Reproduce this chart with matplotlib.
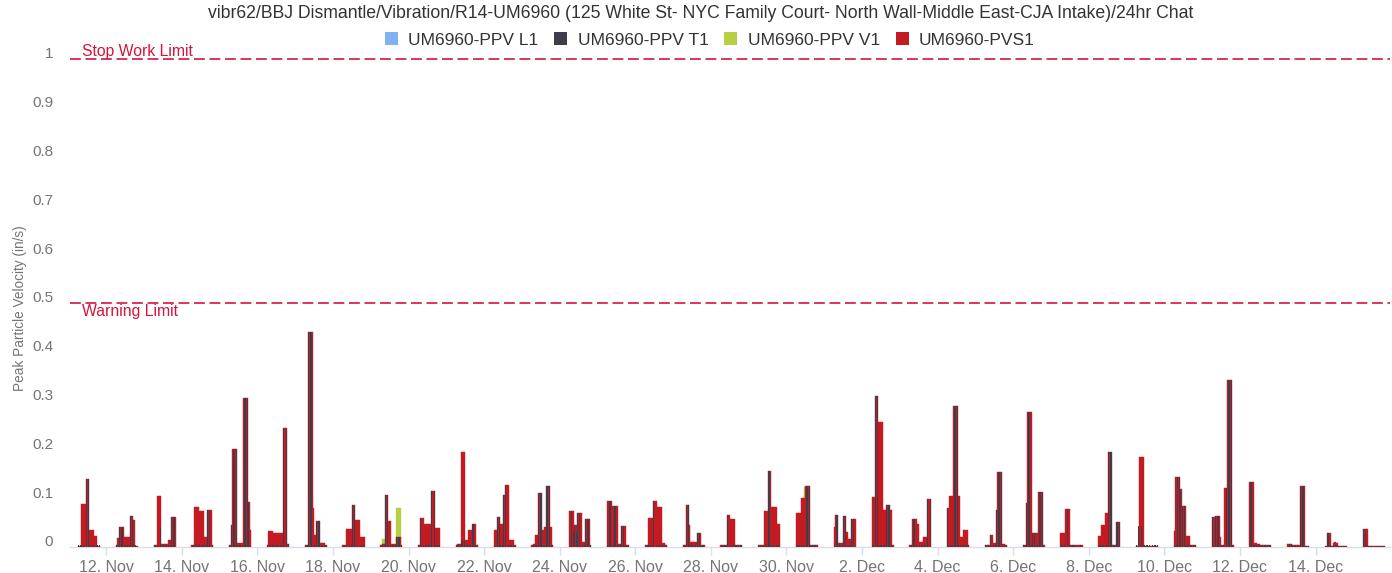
import matplotlib
matplotlib.use("Agg")
import matplotlib.pyplot as plt
from matplotlib.patches import Patch
from matplotlib.transforms import ScaledTranslation
import numpy as np

plt.rcParams['font.family'] = ['Liberation Sans', 'DejaVu Sans']

title = ("vibr62/BBJ Dismantle/Vibration/R14-UM6960 (125 White St- NYC Family Court- "
         "North Wall-Middle East-CJA Intake)/24hr Chat")
series_names = ["UM6960-PPV L1", "UM6960-PPV T1", "UM6960-PPV V1", "UM6960-PVS1"]
series_colors = ["#7fb2ee", "#3d3e4a", "#b7d043", "#c41a22"]
y_label = "Peak Particle Velocity (in/s)"
limit_values = [1.0, 0.5]
limit_names = ["Stop Work Limit", "Warning Limit"]

day_labels = ["11. Nov", "12. Nov", "13. Nov", "14. Nov", "15. Nov", "16. Nov", "17. Nov",
              "18. Nov", "19. Nov", "20. Nov", "21. Nov", "22. Nov", "23. Nov", "24. Nov",
              "25. Nov", "26. Nov", "27. Nov", "28. Nov", "29. Nov", "30. Nov", "1. Dec",
              "2. Dec", "3. Dec", "4. Dec", "5. Dec", "6. Dec", "7. Dec", "8. Dec",
              "9. Dec", "10. Dec", "11. Dec", "12. Dec", "13. Dec", "14. Dec", "15. Dec"]
hours = [6, 7, 8, 9, 10, 11, 12, 13, 14, 15, 16, 17, 18, 19]

# hourly PVS1 (in/s), one row per day, hours 06..19
pvs1 = [
    [0.003, 0.003, 0.088, 0.088, 0.088, 0.139, 0.139, 0.035, 0.035, 0.035, 0.023, 0.023, 0.003, 0.003],
    [0.004, 0.018, 0.040, 0.040, 0.040, 0.021, 0.021, 0.021, 0.021, 0.064, 0.064, 0.055, 0.003, 0.003],
    [0.004, 0.004, 0.105, 0.105, 0.105, 0.007, 0.007, 0.007, 0.007, 0.014, 0.014, 0.061, 0.061, 0.061],
    [0.004, 0.004, 0.081, 0.081, 0.081, 0.074, 0.074, 0.074, 0.020, 0.020, 0.076, 0.076, 0.076, 0.004],
    [0.004, 0.045, 0.200, 0.200, 0.200, 0.009, 0.009, 0.009, 0.009, 0.305, 0.305, 0.305, 0.093, 0.035],
    [0.004, 0.033, 0.033, 0.033, 0.029, 0.029, 0.029, 0.029, 0.029, 0.029, 0.243, 0.243, 0.243, 0.006],
    [0.004, 0.004, 0.441, 0.441, 0.441, 0.079, 0.025, 0.054, 0.054, 0.054, 0.009, 0.009, 0.009, 0.004],
    [0.004, 0.004, 0.036, 0.036, 0.036, 0.036, 0.086, 0.086, 0.055, 0.055, 0.055, 0.021, 0.021, 0.021],
    [0.004, 0.006, 0.006, 0.107, 0.107, 0.054, 0.054, 0.006, 0.006, 0.006, 0.021, 0.021, 0.021, 0.004],
    [0.004, 0.060, 0.060, 0.060, 0.048, 0.048, 0.048, 0.048, 0.115, 0.115, 0.115, 0.038, 0.038, 0.038],
    [0.004, 0.006, 0.006, 0.195, 0.195, 0.195, 0.014, 0.014, 0.035, 0.035, 0.048, 0.048, 0.048, 0.004],
    [0.035, 0.035, 0.062, 0.062, 0.048, 0.048, 0.107, 0.128, 0.128, 0.128, 0.014, 0.014, 0.014, 0.004],
    [0.004, 0.006, 0.025, 0.025, 0.110, 0.110, 0.110, 0.035, 0.042, 0.125, 0.125, 0.125, 0.042, 0.004],
    [0.074, 0.074, 0.074, 0.045, 0.045, 0.070, 0.070, 0.070, 0.011, 0.011, 0.057, 0.057, 0.057, 0.004],
    [0.095, 0.095, 0.095, 0.083, 0.083, 0.083, 0.083, 0.006, 0.006, 0.043, 0.043, 0.043, 0.004, 0.004],
    [0.004, 0.004, 0.059, 0.059, 0.059, 0.094, 0.094, 0.094, 0.081, 0.081, 0.081, 0.008, 0.008, 0.004],
    [0.004, 0.004, 0.087, 0.087, 0.045, 0.011, 0.011, 0.011, 0.011, 0.028, 0.028, 0.028, 0.004, 0.004],
    [0.004, 0.004, 0.004, 0.004, 0.066, 0.066, 0.057, 0.057, 0.057, 0.004, 0.004, 0.004, 0.004, 0.004],
    [0.004, 0.004, 0.004, 0.004, 0.074, 0.074, 0.156, 0.156, 0.081, 0.081, 0.081, 0.081, 0.047, 0.047],
    [0.069, 0.069, 0.069, 0.100, 0.100, 0.100, 0.126, 0.126, 0.126, 0.004, 0.004, 0.004, 0.004, 0.004],
    [0.042, 0.066, 0.066, 0.008, 0.008, 0.008, 0.064, 0.064, 0.030, 0.016, 0.016, 0.057, 0.057, 0.057],
    [0.103, 0.103, 0.309, 0.309, 0.257, 0.257, 0.257, 0.076, 0.076, 0.087, 0.087, 0.087, 0.076, 0.004],
    [0.004, 0.004, 0.057, 0.057, 0.057, 0.047, 0.011, 0.011, 0.011, 0.021, 0.021, 0.098, 0.098, 0.098],
    [0.079, 0.105, 0.105, 0.105, 0.289, 0.289, 0.289, 0.105, 0.021, 0.021, 0.035, 0.035, 0.035, 0.004],
    [0.004, 0.004, 0.004, 0.025, 0.025, 0.008, 0.008, 0.076, 0.154, 0.154, 0.154, 0.006, 0.006, 0.004],
    [0.004, 0.004, 0.091, 0.277, 0.277, 0.277, 0.028, 0.028, 0.028, 0.028, 0.113, 0.113, 0.113, 0.004],
    [0.028, 0.028, 0.028, 0.077, 0.077, 0.077, 0.004, 0.004, 0.004, 0.004, 0.004, 0.004, 0.004, 0.004],
    [0.023, 0.023, 0.045, 0.045, 0.070, 0.070, 0.195, 0.195, 0.195, 0.004, 0.004, 0.052, 0.052, 0.052],
    [0.003, 0.003, 0.184, 0.184, 0.184, 0.003, 0.003, 0.003, 0.003, 0.003, 0.003, 0.003, 0.003, 0.003],
    [0.033, 0.143, 0.143, 0.143, 0.118, 0.083, 0.083, 0.083, 0.023, 0.023, 0.005, 0.005, 0.005, 0.004],
    [0.061, 0.061, 0.064, 0.064, 0.064, 0.021, 0.004, 0.004, 0.120, 0.120, 0.342, 0.342, 0.342, 0.004],
    [0.134, 0.134, 0.134, 0.008, 0.008, 0.006, 0.006, 0.004, 0.004, 0.004, 0.004, 0.004, 0.004, 0.004],
    [0.006, 0.006, 0.006, 0.004, 0.004, 0.004, 0.004, 0.004, 0.125, 0.125, 0.125, 0.003, 0.003, 0.003],
    [0.003, 0.028, 0.028, 0.028, 0.003, 0.008, 0.010, 0.008, 0.003, 0.003, 0.003, 0.003, 0.003, 0.003],
    [0.037, 0.037, 0.037, 0.003, 0.003, 0.003, 0.003, 0.003, 0.003, 0.003, 0.003, 0.003, 0.003, 0.003],
]

# hourly PPV T1 (in/s)
ppv_t1 = [
    [0.004, 0.004, 0.005, 0.005, 0.005, 0.139, 0.139, 0.005, 0.005, 0.005, 0.005, 0.005, 0.004, 0.004],
    [0.004, 0.005, 0.040, 0.040, 0.040, 0.005, 0.005, 0.005, 0.005, 0.064, 0.064, 0.005, 0.004, 0.004],
    [0.004, 0.004, 0.005, 0.105, 0.040, 0.005, 0.005, 0.005, 0.005, 0.005, 0.005, 0.061, 0.061, 0.061],
    [0.004, 0.004, 0.005, 0.005, 0.005, 0.005, 0.005, 0.005, 0.005, 0.005, 0.076, 0.076, 0.076, 0.004],
    [0.004, 0.045, 0.200, 0.200, 0.200, 0.005, 0.005, 0.005, 0.005, 0.305, 0.305, 0.305, 0.093, 0.005],
    [0.004, 0.005, 0.005, 0.005, 0.005, 0.005, 0.005, 0.005, 0.005, 0.005, 0.243, 0.243, 0.243, 0.006],
    [0.004, 0.004, 0.441, 0.441, 0.441, 0.005, 0.005, 0.054, 0.054, 0.054, 0.005, 0.005, 0.005, 0.004],
    [0.004, 0.004, 0.005, 0.005, 0.005, 0.005, 0.086, 0.086, 0.005, 0.005, 0.005, 0.005, 0.005, 0.005],
    [0.004, 0.005, 0.005, 0.107, 0.107, 0.005, 0.005, 0.005, 0.005, 0.005, 0.021, 0.021, 0.021, 0.004],
    [0.004, 0.060, 0.060, 0.005, 0.005, 0.005, 0.005, 0.005, 0.115, 0.115, 0.115, 0.005, 0.005, 0.005],
    [0.004, 0.005, 0.005, 0.012, 0.012, 0.012, 0.005, 0.005, 0.005, 0.005, 0.048, 0.048, 0.005, 0.004],
    [0.005, 0.005, 0.062, 0.062, 0.005, 0.005, 0.107, 0.128, 0.128, 0.005, 0.005, 0.005, 0.005, 0.004],
    [0.004, 0.005, 0.005, 0.005, 0.110, 0.110, 0.110, 0.005, 0.005, 0.125, 0.125, 0.125, 0.005, 0.004],
    [0.074, 0.074, 0.030, 0.045, 0.030, 0.070, 0.070, 0.030, 0.005, 0.005, 0.057, 0.057, 0.057, 0.004],
    [0.005, 0.095, 0.095, 0.005, 0.083, 0.083, 0.005, 0.005, 0.005, 0.043, 0.043, 0.005, 0.004, 0.004],
    [0.004, 0.004, 0.005, 0.005, 0.005, 0.094, 0.094, 0.005, 0.005, 0.005, 0.005, 0.005, 0.005, 0.004],
    [0.004, 0.004, 0.087, 0.087, 0.005, 0.005, 0.005, 0.005, 0.005, 0.028, 0.028, 0.005, 0.004, 0.004],
    [0.004, 0.004, 0.004, 0.004, 0.066, 0.066, 0.005, 0.005, 0.005, 0.004, 0.004, 0.004, 0.004, 0.004],
    [0.004, 0.004, 0.004, 0.004, 0.005, 0.005, 0.156, 0.156, 0.005, 0.005, 0.005, 0.005, 0.005, 0.005],
    [0.005, 0.005, 0.005, 0.005, 0.005, 0.005, 0.126, 0.126, 0.126, 0.004, 0.004, 0.004, 0.004, 0.004],
    [0.005, 0.066, 0.066, 0.005, 0.005, 0.005, 0.064, 0.064, 0.005, 0.005, 0.005, 0.057, 0.057, 0.057],
    [0.005, 0.005, 0.309, 0.309, 0.005, 0.005, 0.005, 0.005, 0.005, 0.087, 0.087, 0.087, 0.005, 0.004],
    [0.004, 0.004, 0.057, 0.057, 0.005, 0.005, 0.005, 0.005, 0.005, 0.005, 0.005, 0.098, 0.098, 0.098],
    [0.079, 0.005, 0.005, 0.005, 0.289, 0.289, 0.289, 0.005, 0.005, 0.005, 0.005, 0.005, 0.005, 0.004],
    [0.004, 0.004, 0.004, 0.025, 0.025, 0.005, 0.005, 0.076, 0.154, 0.154, 0.154, 0.005, 0.005, 0.004],
    [0.004, 0.004, 0.091, 0.277, 0.277, 0.005, 0.028, 0.028, 0.005, 0.005, 0.113, 0.113, 0.113, 0.004],
    [0.005, 0.005, 0.005, 0.077, 0.077, 0.005, 0.004, 0.004, 0.004, 0.004, 0.004, 0.004, 0.004, 0.004],
    [0.005, 0.005, 0.005, 0.005, 0.005, 0.005, 0.195, 0.195, 0.195, 0.004, 0.004, 0.052, 0.052, 0.052],
    [0.004, 0.043, 0.043, 0.043, 0.005, 0.004, 0.004, 0.004, 0.004, 0.004, 0.004, 0.004, 0.004, 0.004],
    [0.005, 0.005, 0.143, 0.143, 0.118, 0.083, 0.083, 0.005, 0.005, 0.005, 0.005, 0.005, 0.005, 0.004],
    [0.061, 0.061, 0.064, 0.064, 0.064, 0.005, 0.004, 0.004, 0.120, 0.120, 0.342, 0.342, 0.342, 0.004],
    [0.134, 0.134, 0.005, 0.005, 0.005, 0.005, 0.004, 0.004, 0.004, 0.004, 0.004, 0.004, 0.004, 0.004],
    [0.006, 0.006, 0.006, 0.004, 0.004, 0.004, 0.004, 0.004, 0.125, 0.125, 0.125, 0.003, 0.003, 0.003],
    [0.003, 0.028, 0.028, 0.005, 0.003, 0.005, 0.005, 0.005, 0.003, 0.003, 0.003, 0.003, 0.003, 0.003],
    [0.037, 0.037, 0.005, 0.003, 0.003, 0.003, 0.003, 0.003, 0.003, 0.003, 0.003, 0.003, 0.003, 0.003],
]

# PPV V1 only where it shows (day index -> {hour: value})
ppv_v1 = {
    8: {7: 0.016, 8: 0.016, 16: 0.079, 17: 0.079, 18: 0.079},
    16: {10: 0.040},
    19: {11: 0.122},
}
# PPV L1 is hidden behind the other series everywhere in the reference
ppv_l1 = {}

red, dark, green, blue = series_colors[3], series_colors[1], series_colors[2], series_colors[0]

fig = plt.figure(figsize=(13.92, 5.73), dpi=100)
ax = fig.add_axes([70 / 1392, 26 / 573, 1320 / 1392, 502 / 573])

hour_w = 1.0 / 24.0
hrs = np.array(hours, dtype=float)
for d in range(len(day_labels)):
    x = d + hrs / 24.0
    if d in ppv_v1:
        hv = np.array(list(ppv_v1[d].keys()), dtype=float)
        ax.bar(d + hv / 24.0, list(ppv_v1[d].values()), width=hour_w, align='edge',
               color=green, edgecolor=green, linewidth=0.3, zorder=2)
    ax.bar(x, pvs1[d], width=hour_w, align='edge', color=red, edgecolor=red,
           linewidth=0.3, zorder=3)
    ax.bar(x + 0.5 * hour_w, ppv_t1[d], width=0.6 * hour_w, align='center',
           color=dark, linewidth=0, zorder=4)

lim_color = "#d4143c"
for val, name in zip(limit_values, limit_names):
    ax.axhline(val, color=lim_color, lw=1.2, dashes=(6.5, 2.8), zorder=5)
    if val == limit_values[0]:
        ax.annotate(name, xy=(0.009, val), xycoords=('axes fraction', 'data'),
                    xytext=(0, 0.3), textcoords='offset points', ha='left', va='bottom',
                    color=lim_color, fontsize=11.3, annotation_clip=False)
    else:
        ax.annotate(name, xy=(0.009, val), xycoords=('axes fraction', 'data'),
                    xytext=(0, -1), textcoords='offset points', ha='left', va='top',
                    color=lim_color, fontsize=11.3, annotation_clip=False)

ax.set_xlim(0.04, 34.97)
ax.set_ylim(0, 502 / 488)
ax.set_yticks(np.arange(0, 1.01, 0.1))
ax.set_yticklabels(["0", "0.1", "0.2", "0.3", "0.4", "0.5", "0.6", "0.7", "0.8", "0.9", "1"])
ax.set_xticks(range(1, len(day_labels), 2))
ax.set_xticklabels(day_labels[1::2])

ax.tick_params(axis='y', length=0, pad=12, labelsize=11, labelcolor="#747474")
ax.tick_params(axis='x', length=6, width=1, color="#d8dde8", pad=3, labelsize=11.5,
               labelcolor="#747474")
off = ScaledTranslation(0, 0.06, fig.dpi_scale_trans)
for lab in ax.get_yticklabels():
    lab.set_transform(lab.get_transform() + off)

for s in ['top', 'right', 'left']:
    ax.spines[s].set_visible(False)
ax.spines['bottom'].set_color("#d8dde8")
ax.spines['bottom'].set_linewidth(1)

ax.set_ylabel(y_label, fontsize=9.8, color="#747474")
ax.yaxis.set_label_coords(-0.0326, 0.476)

fig.text(701 / 1392, 1 - 14 / 573, title, ha='center', va='center', fontsize=12.7,
         color="#333333")

handles = [Patch(facecolor=c, edgecolor='none') for c in series_colors]
fig.legend(handles, series_names, loc='center', bbox_to_anchor=(710 / 1392, 1 - 40 / 573),
           ncol=4, frameon=False, fontsize=12.5, handlelength=0.75, handleheight=0.75,
           handletextpad=0.6, columnspacing=0.9, labelcolor="#333333")

fig.savefig("out.png", dpi=100)
